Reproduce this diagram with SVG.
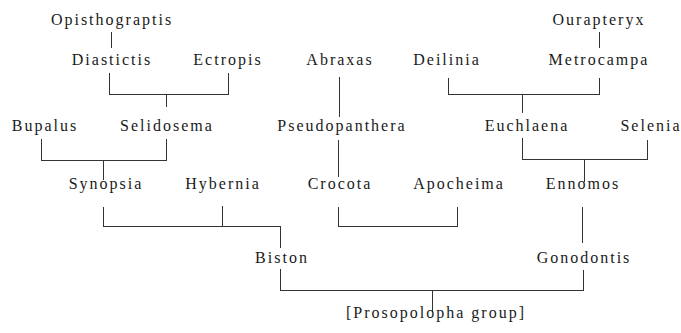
<svg xmlns="http://www.w3.org/2000/svg" width="681" height="333" viewBox="0 0 681 333">
<style>
text{font-family:"Liberation Serif","Times New Roman",serif;font-size:16px;letter-spacing:2px;fill:#1a1a1a;text-anchor:middle}
.c path{fill:none;stroke:#333;stroke-width:1;shape-rendering:crispEdges}
</style>
<rect width="681" height="333" fill="#fff"/>
<g class="c" id="connectors">
<path d="M111,32V48"/>
<path d="M109,73V94H228V73M166,94V107"/>
<path d="M339,77V117"/>
<path d="M448,78V94H599V78M522,94V113"/>
<path d="M599,32V48"/>
<path d="M41,139V160H166V139M103,160V180"/>
<path d="M338,140V177"/>
<path d="M522,138V159H647V140M584,159V182"/>
<path d="M103,207V226H280M222,206V226M280,226V248"/>
<path d="M338,207V226H457V207"/>
<path d="M582,207V243"/>
<path d="M280,269V290H583V270M432,290V312"/>
</g>
<g id="opisthograptis"><text x="112" y="25">Opisthograptis</text></g>
<g id="ourapteryx"><text x="599" y="25">Ourapteryx</text></g>
<g id="diastictis"><text x="112" y="65">Diastictis</text></g>
<g id="ectropis"><text x="228" y="65">Ectropis</text></g>
<g id="abraxas"><text x="340" y="65">Abraxas</text></g>
<g id="deilinia"><text x="447" y="65">Deilinia</text></g>
<g id="metrocampa"><text x="599" y="65">Metrocampa</text></g>
<g id="bupalus"><text x="45" y="131">Bupalus</text></g>
<g id="selidosema"><text x="167" y="131">Selidosema</text></g>
<g id="pseudopanthera"><text x="342" y="131">Pseudopanthera</text></g>
<g id="euchlaena"><text x="527" y="131">Euchlaena</text></g>
<g id="selenia"><text x="651" y="131">Selenia</text></g>
<g id="synopsia"><text x="106" y="189">Synopsia</text></g>
<g id="hybernia"><text x="223" y="189">Hybernia</text></g>
<g id="crocota"><text x="340" y="189">Crocota</text></g>
<g id="apocheima"><text x="459" y="189">Apocheima</text></g>
<g id="ennomos"><text x="583" y="189">Ennomos</text></g>
<g id="biston"><text x="282" y="263">Biston</text></g>
<g id="gonodontis"><text x="584" y="263">Gonodontis</text></g>
<g id="prosopolopha"><text x="436" y="318">[Prosopolopha group]</text></g>
</svg>
